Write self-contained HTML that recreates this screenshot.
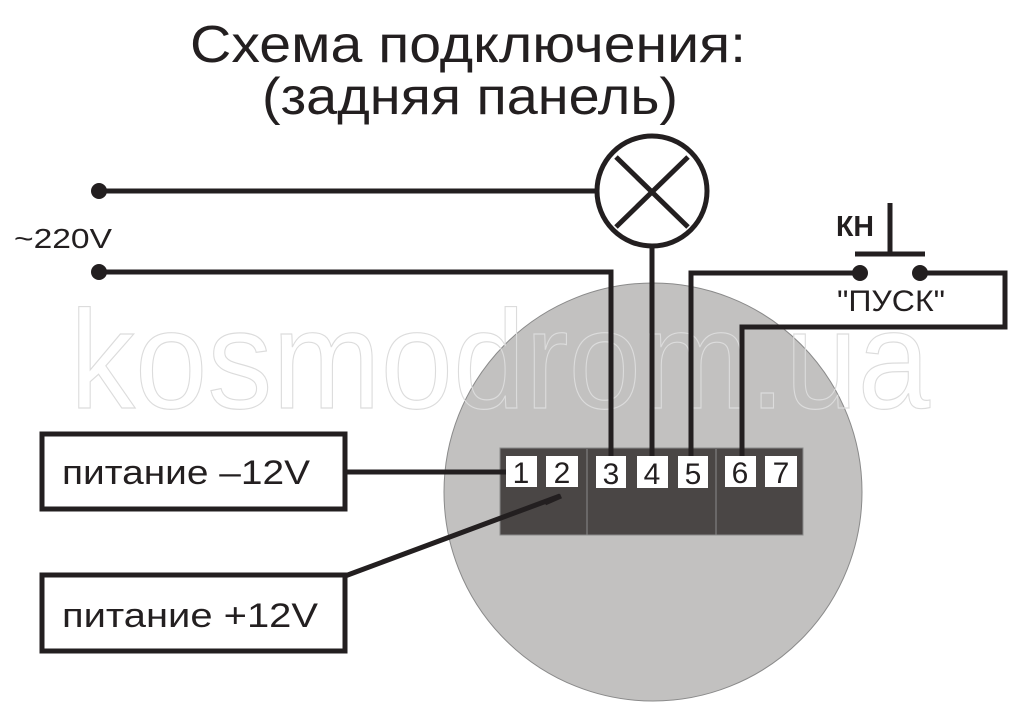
<!DOCTYPE html>
<html><head><meta charset="utf-8"><style>body{margin:0;background:#fff}</style></head><body>
<svg width="1009" height="713" viewBox="0 0 1009 713" xmlns="http://www.w3.org/2000/svg" font-family="Liberation Sans, DejaVu Sans, sans-serif">
<rect width="1009" height="713" fill="#fff"/>
<text x="190" y="62" font-size="52" textLength="556" lengthAdjust="spacingAndGlyphs" fill="#231f20">Схема подключения:</text>
<text x="262" y="114" font-size="52" textLength="416" lengthAdjust="spacingAndGlyphs" fill="#231f20">(задняя панель)</text>
<circle cx="653" cy="492" r="209" fill="#c2c1c0" stroke="#8a8a8a" stroke-width="1"/>
<text x="70" y="408" font-size="140" textLength="860" lengthAdjust="spacingAndGlyphs" fill="none" stroke="#dcdcdc" stroke-width="1.2">kosmodrom.ua</text>
<rect x="500" y="448" width="303" height="87" fill="#4a4645" stroke="#8a8a8a" stroke-width="1"/>
<line x1="587" y1="449" x2="587" y2="535" stroke="#8a8a8a"/>
<line x1="716" y1="449" x2="716" y2="535" stroke="#8a8a8a"/>
<g stroke="#231f20" stroke-width="5" fill="none">
<line x1="98" y1="191" x2="597" y2="191"/>
<circle cx="652" cy="191" r="55"/>
<line x1="616" y1="157" x2="688" y2="227"/>
<line x1="688" y1="157" x2="616" y2="227"/>
<polyline points="98,272 611,272 611,462"/>
<line x1="652" y1="246" x2="652" y2="462"/>
<polyline points="691,462 691,273 860,273"/>
<polyline points="921,273 1005,273 1005,327 742,327 742,462"/>
<line x1="890" y1="203" x2="890" y2="254"/>
<line x1="855" y1="254" x2="925" y2="254"/>
<rect x="42" y="434" width="303" height="75"/>
<rect x="42" y="575" width="303" height="76"/>
<line x1="345" y1="472" x2="508" y2="472"/>
<polyline points="345,576 560,496"/>
</g>
<circle cx="99" cy="191" r="8" fill="#231f20"/>
<circle cx="99" cy="272" r="8" fill="#231f20"/>
<circle cx="860" cy="273" r="8" fill="#231f20"/>
<circle cx="920" cy="273" r="8" fill="#231f20"/>
<text x="14" y="248" font-size="28" textLength="98" lengthAdjust="spacingAndGlyphs" fill="#231f20">~220V</text>
<text x="836" y="236" font-size="29" font-weight="bold" textLength="38" lengthAdjust="spacingAndGlyphs" fill="#231f20">КН</text>
<text x="837" y="311" font-size="30" textLength="108" lengthAdjust="spacingAndGlyphs" fill="#231f20">"ПУСК"</text>
<text x="62" y="484" font-size="34" textLength="248" lengthAdjust="spacingAndGlyphs" fill="#231f20">питание  –12V</text>
<text x="62" y="627" font-size="34" textLength="256" lengthAdjust="spacingAndGlyphs" fill="#231f20">питание  +12V</text>
<g fill="#fff">
<rect x="506" y="456" width="31" height="31"/>
<rect x="546" y="456" width="32" height="31"/>
<rect x="596" y="456" width="30" height="32"/>
<rect x="637" y="456" width="31" height="32"/>
<rect x="678" y="456" width="30" height="32"/>
<rect x="725" y="456" width="31" height="31"/>
<rect x="765" y="456" width="32" height="31"/>
</g>
<g font-size="30" fill="#231f20" text-anchor="middle">
<text x="521" y="483">1</text><text x="562" y="483">2</text><text x="611" y="484">3</text><text x="652" y="484">4</text><text x="693" y="484">5</text><text x="740" y="483">6</text><text x="781" y="483">7</text>
</g>
<line x1="545" y1="503" x2="561" y2="496" stroke="#231f20" stroke-width="5"/>
</svg>
</body></html>
